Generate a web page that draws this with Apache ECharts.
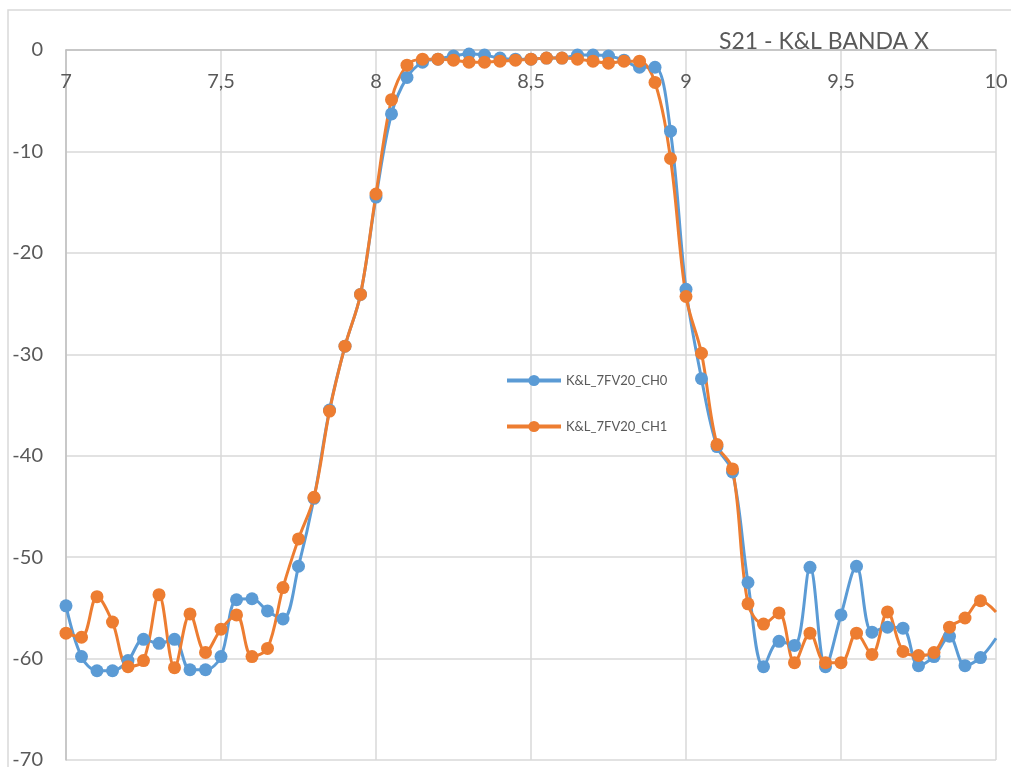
<!DOCTYPE html>
<html lang="en">
<head>
    <meta charset="utf-8">
    <title>S21 - K&amp;L BANDA X</title>
    <script src="https://cdn.jsdelivr.net/npm/echarts@6/dist/echarts.min.js"></script>
    <style>
        html, body { margin: 0; padding: 0; background: #fff; }
    </style>
</head>
<body>

<div id="main" style="width: 1011px;height:767px;"></div>

<script>
    // frequencia (GHz)
    var freq = [7.00, 7.05, 7.10, 7.15, 7.20, 7.25, 7.30, 7.35, 7.40, 7.45,
        7.50, 7.55, 7.60, 7.65, 7.70, 7.75, 7.80, 7.85, 7.90, 7.95,
        8.00, 8.05, 8.10, 8.15, 8.20, 8.25, 8.30, 8.35, 8.40, 8.45,
        8.50, 8.55, 8.60, 8.65, 8.70, 8.75, 8.80, 8.85, 8.90, 8.95,
        9.00, 9.05, 9.10, 9.15, 9.20, 9.25, 9.30, 9.35, 9.40, 9.45,
        9.50, 9.55, 9.60, 9.65, 9.70, 9.75, 9.80, 9.85, 9.90, 9.95, 10.00];

    // S21 (dB) canal 0
    var ch0 = [-54.8, -59.8, -61.2, -61.2, -60.2, -58.1, -58.5, -58.1, -61.1, -61.1,
        -59.8, -54.2, -54.1, -55.3, -56.1, -50.9, -44.2, -35.5, -29.2, -24.1,
        -14.5, -6.3, -2.7, -1.2, -0.9, -0.6, -0.4, -0.5, -0.8, -0.9,
        -0.9, -0.8, -0.8, -0.5, -0.5, -0.6, -1.0, -1.7, -1.7, -8.0,
        -23.6, -32.4, -39.1, -41.6, -52.5, -60.8, -58.3, -58.7, -51.0, -60.8,
        -55.7, -50.9, -57.4, -56.9, -57.0, -60.7, -59.8, -57.8, -60.7, -59.9, -58.0];

    // S21 (dB) canal 1
    var ch1 = [-57.5, -57.9, -53.9, -56.4, -60.8, -60.2, -53.7, -60.9, -55.6, -59.4,
        -57.1, -55.7, -59.8, -59.0, -53.0, -48.2, -44.1, -35.6, -29.2, -24.1,
        -14.2, -4.9, -1.5, -0.9, -0.9, -1.0, -1.2, -1.2, -1.1, -1.0,
        -0.9, -0.8, -0.8, -0.9, -1.1, -1.3, -1.1, -1.1, -3.2, -10.7,
        -24.3, -29.9, -38.9, -41.3, -54.6, -56.6, -55.5, -60.4, -57.5, -60.4,
        -60.4, -57.5, -59.6, -55.4, -59.3, -59.7, -59.4, -56.9, -56.0, -54.3, -55.4];

    var seriesNames = ['K&L_7FV20_CH0', 'K&L_7FV20_CH1'];
    var fontFamily = 'Lato, "Open Sans", sans-serif';

    function pares(ys) {
        return freq.map(function (f, i) {
            var item = {value: [f, ys[i]]};
            if (i === freq.length - 1) item.symbol = 'none'; // ponto no limite fica cortado
            return item;
        });
    }

    var myChart = echarts.init(document.getElementById('main'));

    var option = {
        color: ['#5B9BD5', '#ED7D31'],
        textStyle: {fontFamily: fontFamily},
        title: {
            text: 'S21 - K&L BANDA X',
            left: 714,
            top: 25,
            textStyle: {fontSize: 23, fontWeight: 'normal', color: '#595959', fontFamily: fontFamily}
        },
        legend: {
            data: seriesNames,
            orient: 'vertical',
            left: 505,
            top: 374,
            padding: 0,
            itemWidth: 54,
            itemHeight: 14,
            itemGap: 33,
            lineStyle: {width: 4},
            textStyle: {fontSize: 13, color: '#595959', fontFamily: fontFamily}
        },
        graphic: [{
            type: 'rect',
            shape: {x: 8, y: 10, width: 1200, height: 900},
            style: {fill: 'none', stroke: '#d9d9d9', lineWidth: 1.5},
            silent: true,
            z: -1
        }],
        grid: {left: 66, right: 15, top: 50, bottom: 7, outerBoundsMode: 'none'},
        xAxis: {
            type: 'value',
            position: 'top',
            min: 7,
            max: 10,
            interval: 0.5,
            axisLine: {show: true, lineStyle: {color: '#bfbfbf', width: 1.5}},
            axisTick: {show: false},
            axisLabel: {
                inside: true,
                margin: 22,
                fontSize: 20,
                color: '#595959',
                formatter: function (v) { return String(v).replace('.', ','); }
            },
            splitLine: {show: true, lineStyle: {color: '#d9d9d9', width: 1.5}}
        },
        yAxis: {
            type: 'value',
            min: -70,
            max: 0,
            interval: 10,
            axisLine: {show: true, onZero: false, lineStyle: {color: '#bfbfbf', width: 1.5}},
            axisTick: {show: false},
            axisLabel: {margin: 23, fontSize: 20, color: '#595959'},
            splitLine: {show: true, lineStyle: {color: '#d9d9d9', width: 1.5}}
        },
        series: [
            {
                name: seriesNames[0],
                type: 'line',
                smooth: 0.35,
                symbol: 'circle',
                symbolSize: 13,
                lineStyle: {width: 3},
                data: pares(ch0)
            },
            {
                name: seriesNames[1],
                type: 'line',
                smooth: 0.35,
                symbol: 'circle',
                symbolSize: 13,
                lineStyle: {width: 3},
                data: pares(ch1)
            }
        ]
    };

    myChart.setOption(option);
</script>
</body>
</html>
